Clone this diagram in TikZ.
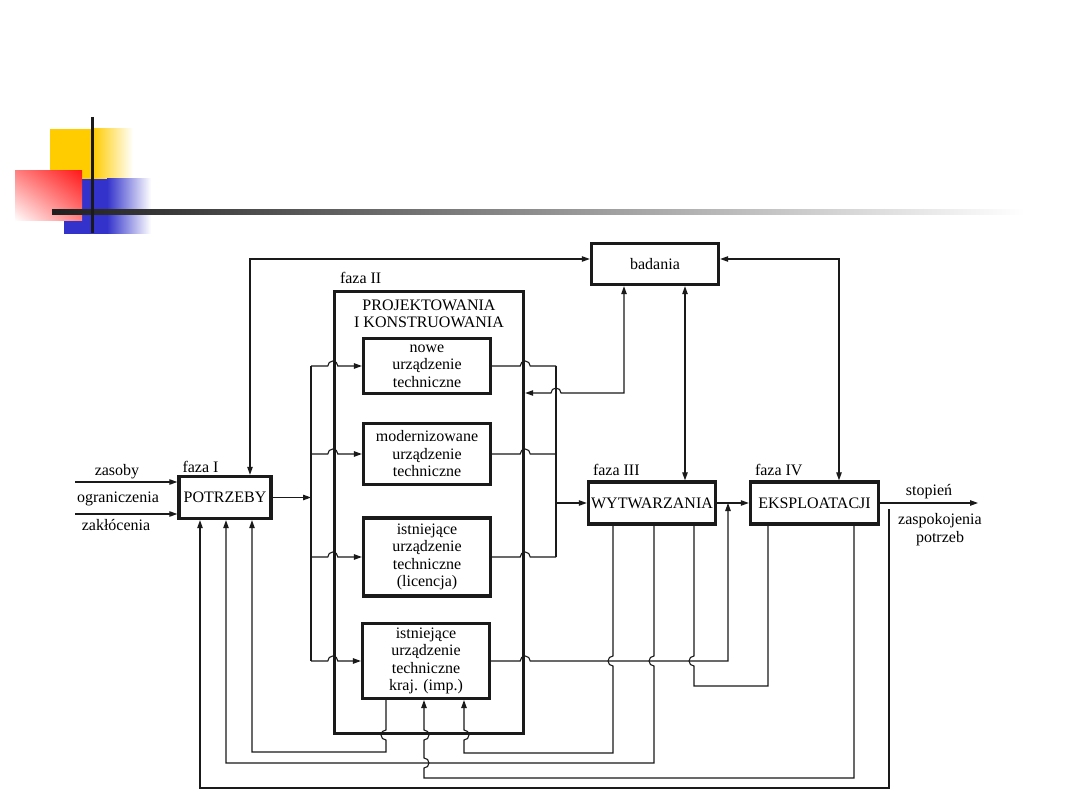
\documentclass[tikz,border=0pt]{standalone}
\usepackage{fontspec}
\setmainfont{Liberation Serif}
\usetikzlibrary{arrows.meta, positioning, calc, shadings}
\definecolor{ink}{HTML}{1A1A1A}
\definecolor{decoyel}{HTML}{FFCC00}
\definecolor{decored}{HTML}{FF1A1A}
\definecolor{decoblu}{HTML}{3333CC}

\begin{document}
\begin{tikzpicture}[x=1pt, y=-1pt,
  phasebox/.style={draw=ink, line width=3.4pt, fill=white, inner sep=0pt, align=center, font=\fontsize{16}{17.5}\selectfont},
  devbox/.style={phasebox, line width=3.2pt, minimum width=127pt},
  phaselbl/.style={anchor=base west, inner sep=0pt, font=\fontsize{16}{17.5}\selectfont},
  lbl/.style={inner sep=0pt, align=center, font=\fontsize{16}{17.5}\selectfont},
  link/.style={draw=ink, line width=1.1pt},
  arr/.style={link, -{Triangle[length=8pt, width=5.5pt]}},
  darr/.style={link, {Triangle[length=8pt, width=5.5pt]}-{Triangle[length=8pt, width=5.5pt]}},
]
\fill[white] (0,0) rectangle (1080,810);
\useasboundingbox (0,0) rectangle (1080,810);

% slide decoration
\fill[decoyel] (50,129) rectangle (93,179);
\shade[left color=decoyel, right color=white] (93,129) rectangle (133,179);
\fill[decoblu] (64,179) rectangle (107,234);
\shade[left color=decoblu, right color=white] (107,179) rectangle (151,234);
\shade[upper left=decored!55, upper right=decored, lower left=white, lower right=decored!55] (15,171) rectangle (82,221);
\shade[left color=black!88, right color=white] (52,209.5) rectangle (1025,214.5);
\draw[ink, line width=3pt] (92,117) -- (92,233);

% phases
\node[phasebox, minimum width=127pt, minimum height=41pt] (bad) at (655,264) {badania};
\node[phasebox, minimum width=92pt, minimum height=42pt] (pot) at (225,497.5) {POTRZEBY};
\node[phasebox, minimum width=189pt, minimum height=442pt] (proj) at (429,512.5) {};
\node[lbl] (projtl) at (429,314) {PROJEKTOWANIA\\I KONSTRUOWANIA};
\node[phasebox, minimum width=127pt, minimum height=42pt] (wyt) at (652,503) {WYTWARZANIA};
\node[phasebox, minimum width=128pt, minimum height=42pt] (eks) at (814.5,503) {EKSPLOATACJI};

% design variants
\node[devbox, minimum height=55pt] (d1) at (427,366) {nowe\\urządzenie\\techniczne};
\node[devbox, minimum height=61pt] (d2) at (427,454) {modernizowane\\urządzenie\\techniczne};
\node[devbox, minimum height=78pt] (d3) at (427,557) {istniejące\\urządzenie\\techniczne\\(licencja)};
\node[devbox, minimum height=75pt] (d4) at (426,661) {istniejące\\urządzenie\\techniczne\\kraj. (imp.)};

\node[phaselbl] (f1) at ([shift={(5pt,2pt)}]pot.north west) {faza I};
\node[phaselbl] (f2) at ([shift={(7pt,6pt)}]proj.north west) {faza II};
\node[phaselbl] (f3) at ([shift={(6pt,5pt)}]wyt.north west) {faza III};
\node[phaselbl] (f4) at ([shift={(6pt,5pt)}]eks.north west) {faza IV};

\node[lbl] (zas) at (117,472) {zasoby};
\node[lbl] (ogr) at (118,499) {ograniczenia};
\node[lbl] (zak) at (116,525) {zakłócenia};
\node[lbl] (stp) at (929,492) {stopień};
\node[lbl] (zasp) at (940,529.5) {zaspokojenia\\potrzeb};

\coordinate (lbus) at (311,0);
\coordinate (rbus) at (556,0);
\coordinate (in1) at (75,482);
\coordinate (in2) at (75,514);
\coordinate (mrg) at (728,503);
\coordinate (out) at (978,503);
\coordinate (fbtop) at (889,509);

% main flow
\foreach \c in {in1, in2}
  \draw[arr] (\c) -- (\c -| pot.west);
\draw[arr] (pot.east) -- (pot.east -| lbus);
\draw[link] (d1.west -| lbus) -- (d4.west -| lbus);
\foreach \d in {d1, d2, d3, d4}
  \draw[arr] (\d.west -| lbus) -- ($(\d.west -| proj.west)+(-5,0)$) arc[start angle=180, end angle=0, radius=5pt] -- (\d.west);
\foreach \d in {d1, d2, d3}
  \draw[link] (\d.east) -- ($(\d.east -| proj.east)+(-5,0)$) arc[start angle=180, end angle=0, radius=5pt] -- (\d.east -| rbus);
\draw[link] (d1.east -| rbus) -- (d3.east -| rbus);
\draw[arr] (wyt.west -| rbus) -- (wyt.west);
\draw[arr] (d4.east) -- ($(d4.east -| proj.east)+(-5,0)$) arc[start angle=180, end angle=0, radius=5pt] -- (d4.east -| mrg) -- (mrg);
\draw[arr] (wyt.east) -- (eks.west);
\draw[arr] (eks.east) -- (out);

% research links
\draw[darr] ([yshift=5pt]bad.west) -| ([xshift=25pt]pot.north);
\draw[darr] ([yshift=5pt]bad.east) -| ([xshift=24.5pt]eks.north);
\draw[darr] (685,0 |- bad.south) -- (685,0 |- wyt.north);
\draw[darr] (624,0 |- bad.south) -- (624,393) -- (561,393) arc[start angle=0, end angle=180, radius=5pt] -- (proj.east |- 0,393);

% feedback
\draw[arr] (386,0 |- d4.south) -- (386,730) arc[start angle=90, end angle=270, radius=5pt] -- (386,752) -| (252,0 |- pot.south);
\draw[arr] (654,0 |- wyt.south) -- (654,656) arc[start angle=90, end angle=270, radius=5pt] -- (654,763) -| (226,0 |- pot.south);
\draw[arr] (fbtop) -- (fbtop |- 0,788) -| (200,0 |- pot.south);
\draw[arr] (613,0 |- wyt.south) -- (613,656) arc[start angle=90, end angle=270, radius=5pt] -- (613,753) -| (464,740) arc[start angle=-90, end angle=90, radius=5pt] -- (464,0 |- d4.south);
\draw[arr] (854,0 |- eks.south) -- (854,778) -| (424,768) arc[start angle=-90, end angle=90, radius=5pt] -- (424,740) arc[start angle=-90, end angle=90, radius=5pt] -- (424,0 |- d4.south);
\draw[link] (694,0 |- wyt.south) -- (694,656) arc[start angle=90, end angle=270, radius=5pt] -- (694,686) -| (eks.south -| 768,0);

\end{tikzpicture}
\end{document}
